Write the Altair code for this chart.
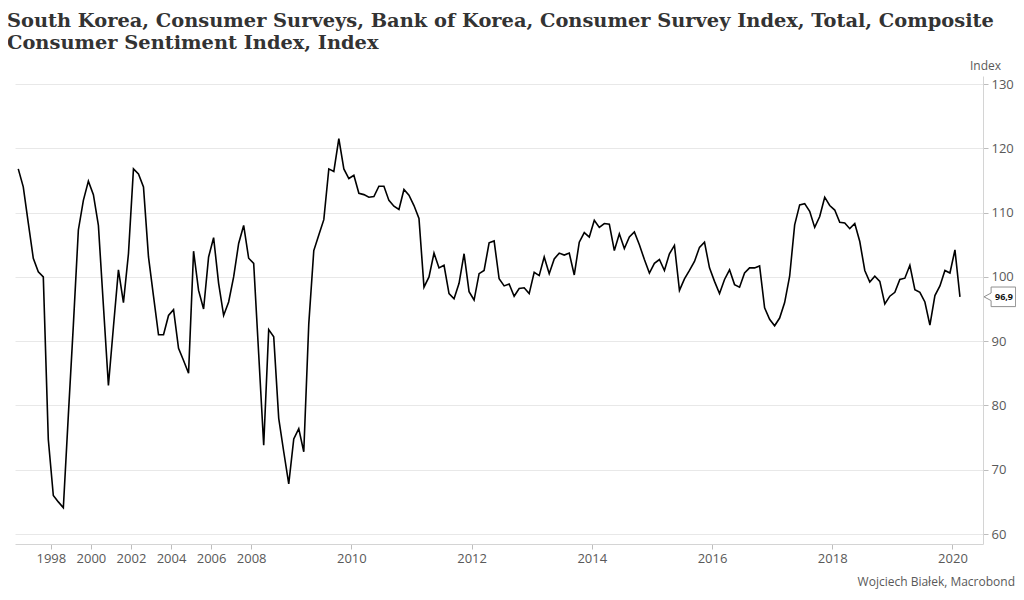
import altair as alt
import pandas as pd

title_lines = [
    "South Korea, Consumer Surveys, Bank of Korea, Consumer Survey Index, Total, Composite",
    "Consumer Sentiment Index, Index",
]
credit = "Wojciech Białek, Macrobond"
y_title = "Index"

# Quarterly observations 1996Q2 .. 2008Q2
quarterly_periods = [f"{y}Q{q}" for y in range(1996, 2009) for q in range(1, 5)]
quarterly_periods = quarterly_periods[quarterly_periods.index("1996Q2"):quarterly_periods.index("2008Q2") + 1]
quarterly_values = [
    116.8, 114.0, 108.4, 102.9, 100.8, 100.0, 74.7, 66.0, 65.0, 64.1,
    78.5, 92.5, 107.3, 111.9, 114.9, 112.8, 108.0, 95.5, 83.1, 92.2,
    101.1, 96.0, 103.6, 116.8, 116.0, 114.0, 103.1, 97.0, 91.0, 91.0,
    94.0, 94.9, 88.9, 87.0, 85.0, 104.0, 97.9, 95.0, 103.1, 106.1,
    99.0, 94.0, 96.1, 100.0, 105.2, 108.0, 102.9, 102.1, 88.0,
]

# Monthly observations 2008-07 .. 2020-02
monthly_periods = [f"{y}-{m:02d}" for y in range(2008, 2021) for m in range(1, 13)]
monthly_periods = monthly_periods[monthly_periods.index("2008-07"):monthly_periods.index("2020-02") + 1]
monthly_values = [
    73.8, 91.8, 90.7, 78.0, 72.8, 67.8,                                   # 2008 H2
    74.8, 76.4, 72.8, 92.7, 104.1, 106.5, 108.9, 116.8, 116.4, 121.5, 116.8, 115.3,  # 2009
    115.8, 113.0, 112.8, 112.4, 112.5, 114.1, 114.1, 111.9, 111.0, 110.5, 113.6, 112.7,  # 2010
    111.1, 109.1, 98.4, 100.0, 103.7, 101.4, 101.8, 97.4, 96.6, 99.0, 103.6, 97.7,  # 2011
    96.4, 100.5, 101.0, 105.3, 105.6, 99.7, 98.6, 98.9, 97.0, 98.2, 98.3, 97.4,  # 2012
    100.7, 100.2, 103.1, 100.5, 102.8, 103.7, 103.4, 103.7, 100.3, 105.4, 106.9, 106.2,  # 2013
    108.8, 107.7, 108.3, 108.2, 104.1, 106.7, 104.4, 106.2, 107.0, 105.0, 102.7, 100.6,  # 2014
    102.1, 102.7, 101.0, 103.6, 104.9, 97.9, 99.7, 101.0, 102.4, 104.6, 105.4, 101.4,  # 2015
    99.3, 97.4, 99.6, 101.1, 98.8, 98.4, 100.6, 101.4, 101.4, 101.7, 95.2, 93.4,  # 2016
    92.4, 93.6, 96.0, 100.1, 108.1, 111.2, 111.4, 110.2, 107.7, 109.4, 112.4, 111.1,  # 2017
    110.4, 108.5, 108.4, 107.5, 108.3, 105.5, 101.0, 99.2, 100.1, 99.3, 95.8, 97.0,  # 2018
    97.6, 99.6, 99.8, 101.8, 98.0, 97.6, 96.1, 92.5, 97.1, 98.6, 101.0, 100.6,  # 2019
    104.2, 96.9,                                                          # 2020
]

tick_years = [1998, 2000, 2002, 2004, 2006, 2008, 2010, 2012, 2014, 2016, 2018, 2020]
y_ticks = [60, 70, 80, 90, 100, 110, 120, 130]

periods = quarterly_periods + monthly_periods
values = quarterly_values + monthly_values
years = [int(p[:4]) for p in periods]

df = pd.DataFrame({"obs": list(range(len(values))), "period": periods, "value": values})

# ticks at the start of each year's first period (half an observation before its point)
tick_obs = [years.index(y) - 0.5 for y in tick_years]
label_expr = "''"
for o, y in reversed(list(zip(tick_obs, tick_years))):
    label_expr = f"datum.value == {o} ? '{y}' : ({label_expr})"

last_df = pd.DataFrame({
    "value": [values[-1]],
    "label": [f"{values[-1]:.1f}".replace(".", ",")],
})

GRAY = "#595959"
SANS = "Open Sans"

x_enc = alt.X(
    "obs:Q",
    scale=alt.Scale(domain=[-0.65, 192.6], nice=False, zero=False),
    axis=alt.Axis(
        values=tick_obs, labelExpr=label_expr, grid=False, title=None,
        domainColor="#d4d4d4", tickColor="#bdbdbd", tickSize=5,
        labelFont=SANS, labelFontSize=13, labelColor=GRAY, labelPadding=3,
        labelFlush=False,
    ),
)
y_scale = alt.Scale(domain=[58.45, 131.25], nice=False, zero=False)
y_enc = alt.Y(
    "value:Q",
    scale=y_scale,
    axis=alt.Axis(
        orient="right", values=y_ticks, grid=True, gridColor="#e8e8e8",
        domainColor="#d4d4d4", tickColor="#bdbdbd", tickSize=5,
        labelFont=SANS, labelFontSize=13, labelColor=GRAY, labelPadding=3,
        title=y_title, titleAngle=0, titleX=2, titleY=-11, titleAlign="center",
        titleBaseline="middle", titleFont=SANS, titleFontSize=12,
        titleFontWeight="normal", titleColor=GRAY,
    ),
)

line = alt.Chart(df).mark_line(color="#000000", strokeWidth=1.6).encode(x=x_enc, y=y_enc)

callout_path = "M-1,0 L-0.55,-0.24 L-0.55,-0.62 L1,-0.62 L1,0.62 L-0.55,0.62 L-0.55,0.24 Z"
callout = alt.Chart(last_df).mark_point(
    shape=callout_path, size=1000, filled=True, fill="white",
    stroke="#8f8f8f", strokeWidth=1, opacity=1,
).encode(x=alt.value(984.8), y=alt.Y("value:Q", scale=y_scale))
callout_text = alt.Chart(last_df).mark_text(
    font=SANS, fontSize=9, fontWeight="bold", color="#111111", align="center", baseline="middle",
).encode(x=alt.value(989), y=alt.Y("value:Q", scale=y_scale), text="label:N")

t1 = alt.Chart(pd.DataFrame({"t": [title_lines[0]]})).mark_text(
    font="DejaVu Serif", fontSize=19.4, fontWeight="bold", color="#333333",
    align="left", baseline="alphabetic",
).encode(x=alt.value(-8), y=alt.value(-49), text="t:N")
t2 = alt.Chart(pd.DataFrame({"t": [title_lines[1]]})).mark_text(
    font="DejaVu Serif", fontSize=19.4, fontWeight="bold", color="#333333",
    align="left", baseline="alphabetic",
).encode(x=alt.value(-8), y=alt.value(-27), text="t:N")
credit_text = alt.Chart(pd.DataFrame({"t": [credit]})).mark_text(
    font=SANS, fontSize=12, color=GRAY, align="right", baseline="middle",
).encode(x=alt.value(1000), y=alt.value(506), text="t:N")

chart = alt.layer(line, callout, callout_text, t1, t2, credit_text).properties(
    width=968, height=468,
    autosize=alt.AutoSizeParams(type="none"),
    padding={"left": 7, "top": 68, "right": 33, "bottom": 48},
).configure_view(strokeWidth=0)

chart.save("out.html", embed_options={"renderer": "svg", "actions": False})
